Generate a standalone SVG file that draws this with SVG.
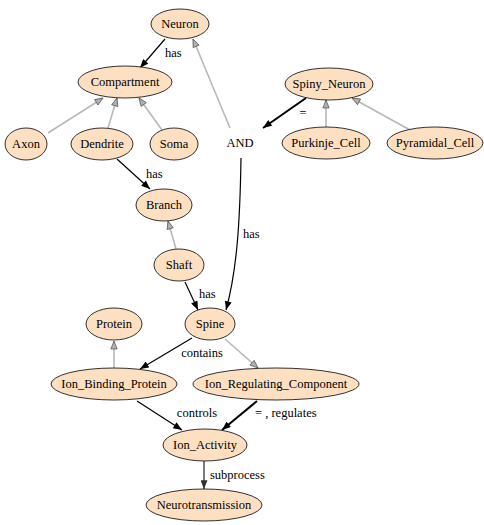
<svg xmlns="http://www.w3.org/2000/svg" width="484" height="525" viewBox="0 0 484 525" font-family="'Liberation Serif', 'Times New Roman', serif">
<defs>
<style>
text{font-family:"Liberation Serif","Times New Roman",serif;font-size:12.5px;fill:#000;text-anchor:middle;dominant-baseline:central}
.n ellipse{fill:#fde0c2;stroke:#000;stroke-width:0.8}
.e path{fill:none}
.b{stroke:#000;stroke-width:1.2;marker-end:url(#ab)}
.bt{stroke:#000;stroke-width:2;marker-end:url(#ab)}
.g{stroke:#b8b8b8;stroke-width:1.6;marker-end:url(#ag)}
.d{stroke:#444;stroke-width:1.4;marker-end:url(#ad)}
.lbl{text-anchor:start}
</style>
<marker id="ab" viewBox="0 0 10 8" refX="10" refY="4" markerWidth="10" markerHeight="7" markerUnits="userSpaceOnUse" orient="auto"><path d="M0,0 L10,4 L0,8 z" fill="#000"/></marker>
<marker id="ad" viewBox="0 0 10 8" refX="10" refY="4" markerWidth="10" markerHeight="7" markerUnits="userSpaceOnUse" orient="auto"><path d="M0,0 L10,4 L0,8 z" fill="#333"/></marker>
<marker id="ag" viewBox="-1 -1 12 10" refX="10" refY="4" markerWidth="11" markerHeight="8" markerUnits="userSpaceOnUse" orient="auto"><path d="M0,0 L10,4 L0,8 z" fill="#b0b0b0" stroke="#444" stroke-width="0.8"/></marker>
</defs>
<rect width="484" height="525" fill="#fff"/>
<g id="connectors" class="e">
<path class="b" d="M165,39 L140,68"/>
<text class="lbl" x="165" y="53">has</text>
<path class="g" d="M48,133 L103,98"/>
<path class="g" d="M108,128 L117,98"/>
<path class="g" d="M162,130 L139,98"/>
<path class="g" d="M230,128 L193,39"/>
<path class="bt" d="M306,98 L263,128"/>
<text x="303" y="113">=</text>
<path class="g" d="M326,127 L326,100"/>
<path class="g" d="M410,130 L352,98"/>
<path class="b" d="M117,159 L150,189"/>
<text class="lbl" x="146" y="174">has</text>
<path class="g" d="M176,249 L168,221"/>
<path class="b" d="M185,282 L198,310"/>
<path class="b" d="M241,158 C240,222 237,270 226,310"/>
<text class="lbl" x="243" y="234">has</text>
<text class="lbl" x="199" y="294">has</text>
<path class="b" d="M192,338 L140,369"/>
<text x="202" y="353">contains</text>
<path class="g" d="M225,339 L258,368"/>
<path class="g" d="M114,368 L114,341"/>
<path class="b" d="M137,401 L182,430"/>
<text x="197" y="413">controls</text>
<path class="bt" d="M257,401 L222,430"/>
<text class="lbl" x="255" y="413">= , regulates</text>
<path class="d" d="M204,461 L204,489"/>
<text class="lbl" x="210" y="475">subprocess</text>
</g>
<g id="Neuron" class="n"><ellipse cx="180" cy="24" rx="29" ry="15"/><text x="180" y="24">Neuron</text></g>
<g id="Compartment" class="n"><ellipse cx="125" cy="82" rx="47" ry="16"/><text x="125" y="82">Compartment</text></g>
<g id="Axon" class="n"><ellipse cx="26" cy="144" rx="21" ry="16"/><text x="26" y="144">Axon</text></g>
<g id="Dendrite" class="n"><ellipse cx="102" cy="144" rx="31" ry="16"/><text x="102" y="144">Dendrite</text></g>
<g id="Soma" class="n"><ellipse cx="174" cy="144" rx="24" ry="16"/><text x="174" y="144">Soma</text></g>
<g id="AND"><text x="240" y="143">AND</text></g>
<g id="Spiny_Neuron" class="n"><ellipse cx="329" cy="84" rx="44" ry="16"/><text x="329" y="84">Spiny_Neuron</text></g>
<g id="Purkinje_Cell" class="n"><ellipse cx="326" cy="143" rx="44" ry="16"/><text x="326" y="143">Purkinje_Cell</text></g>
<g id="Pyramidal_Cell" class="n"><ellipse cx="435" cy="143" rx="48" ry="16"/><text x="435" y="143">Pyramidal_Cell</text></g>
<g id="Branch" class="n"><ellipse cx="164" cy="205" rx="28" ry="16"/><text x="164" y="205">Branch</text></g>
<g id="Shaft" class="n"><ellipse cx="179" cy="265" rx="25" ry="16"/><text x="179" y="265">Shaft</text></g>
<g id="Spine" class="n"><ellipse cx="210" cy="324" rx="25" ry="16"/><text x="210" y="324">Spine</text></g>
<g id="Protein" class="n"><ellipse cx="114" cy="324" rx="28" ry="16"/><text x="114" y="324">Protein</text></g>
<g id="Ion_Binding_Protein" class="n"><ellipse cx="114" cy="384" rx="63" ry="16"/><text x="114" y="384">Ion_Binding_Protein</text></g>
<g id="Ion_Regulating_Component" class="n"><ellipse cx="276" cy="384" rx="83" ry="16"/><text x="276" y="384">Ion_Regulating_Component</text></g>
<g id="Ion_Activity" class="n"><ellipse cx="205" cy="445" rx="42" ry="16"/><text x="205" y="445">Ion_Activity</text></g>
<g id="Neurotransmission" class="n"><ellipse cx="204" cy="505" rx="58" ry="16"/><text x="204" y="505">Neurotransmission</text></g>
</svg>
